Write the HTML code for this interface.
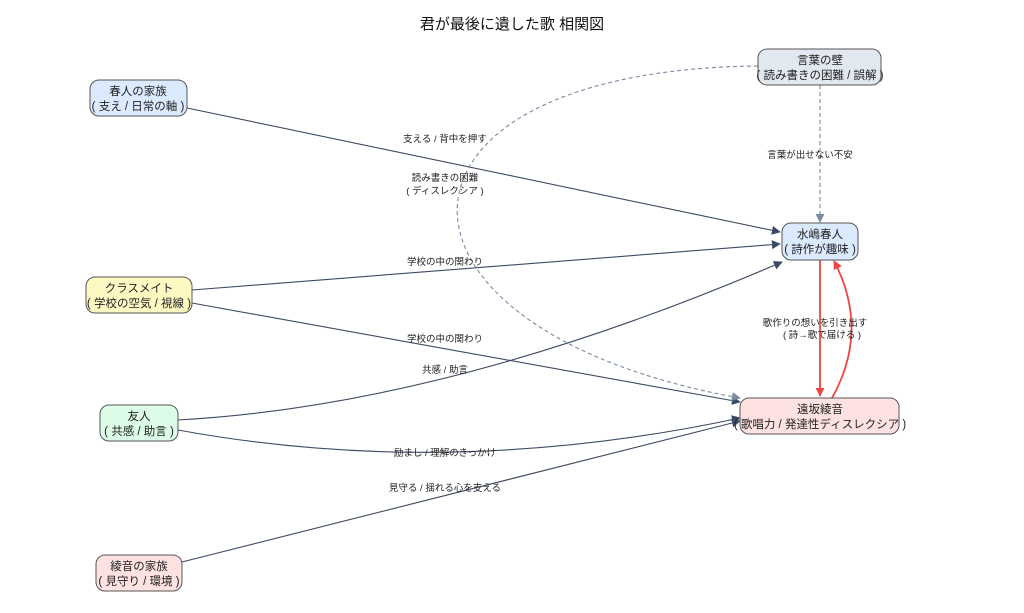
<!DOCTYPE html>
<html><head><meta charset="utf-8"><style>
html,body{margin:0;padding:0;background:#fff;}
svg{display:block;font-family:"Liberation Sans","Noto Sans CJK JP",sans-serif;}
.l{font-size:9.5px;fill:#222;text-anchor:middle;}
.n{font-size:11.5px;fill:#222;text-anchor:middle;}
</style></head><body>
<svg width="1024" height="613" viewBox="0 0 1024 613">
<defs>
<marker id="a" viewBox="0 0 10 10" refX="9" refY="5" markerWidth="9" markerHeight="9" orient="auto" markerUnits="userSpaceOnUse"><path d="M0,0L10,5L0,10z" fill="#3d4a63"/></marker>
<marker id="g" viewBox="0 0 10 10" refX="9" refY="5" markerWidth="9" markerHeight="9" orient="auto" markerUnits="userSpaceOnUse"><path d="M0,0L10,5L0,10z" fill="#7a8aa3"/></marker>
<marker id="r" viewBox="0 0 10 10" refX="9" refY="5" markerWidth="9" markerHeight="9" orient="auto" markerUnits="userSpaceOnUse"><path d="M0,0L10,5L0,10z" fill="#ef4444"/></marker>
</defs>
<text x="512" y="29" font-size="15" text-anchor="middle" fill="#111">君が最後に遺した歌 相関図</text>
<g fill="none" stroke-width="1.1">
<path d="M187,108 L780,232" stroke="#3d4a63" marker-end="url(#a)"/>
<path d="M192,290 L780,244" stroke="#3d4a63" marker-end="url(#a)"/>
<path d="M192,303 L740,402" stroke="#3d4a63" marker-end="url(#a)"/>
<path d="M178,420 Q450,405 782,262" stroke="#3d4a63" marker-end="url(#a)"/>
<path d="M178,430 Q450,480 740,418" stroke="#3d4a63" marker-end="url(#a)"/>
<path d="M182,562 L740,421" stroke="#3d4a63" marker-end="url(#a)"/>
<path d="M820,85 L820,222" stroke="#7a8aa3" stroke-dasharray="4,3" marker-end="url(#g)"/>
<path d="M758,66 C360,70 360,330 740,398" stroke="#7a8aa3" stroke-dasharray="4,3" marker-end="url(#g)"/>
<path d="M820,260 L820,396" stroke="#ef4444" stroke-width="1.8" marker-end="url(#r)"/>
<path d="M832,398 Q870,330 834,261" stroke="#ef4444" stroke-width="1.8" marker-end="url(#r)"/>
</g>
<g class="l">
<text x="445" y="142">支える / 背中を押す</text>
<text x="445" y="181">読み書きの困難</text>
<text x="445" y="194">( ディスレクシア )</text>
<text x="445" y="265">学校の中の関わり</text>
<text x="445" y="342">学校の中の関わり</text>
<text x="445" y="373">共感 / 助言</text>
<text x="445" y="456">励まし / 理解のきっかけ</text>
<text x="445" y="491">見守る / 揺れる心を支える</text>
<text x="810" y="158">言葉が出せない不安</text>
<text x="815" y="326">歌作りの想いを引き出す</text>
<text x="822" y="338">( 詩→歌で届ける )</text>
</g>
<g stroke="#555" stroke-width="1">
<rect x="90" y="80" width="97" height="36" rx="9" fill="#dbeafe"/>
<rect x="86" y="277" width="106" height="36" rx="9" fill="#fef9c3"/>
<rect x="100" y="405" width="78" height="36" rx="9" fill="#dcfce7"/>
<rect x="96" y="555" width="86" height="36" rx="9" fill="#fee2e2"/>
<rect x="758" y="49" width="123" height="36" rx="9" fill="#e2e8f0"/>
<rect x="782" y="223" width="76" height="37" rx="9" fill="#dbeafe"/>
<rect x="740" y="398" width="159" height="36" rx="9" fill="#fee2e2"/>
</g>
<g class="n">
<text x="138" y="95">春人の家族</text><text x="138" y="110">( 支え / 日常の軸 )</text>
<text x="139" y="292">クラスメイト</text><text x="139" y="307">( 学校の空気 / 視線 )</text>
<text x="139" y="420">友人</text><text x="139" y="435">( 共感 / 助言 )</text>
<text x="139" y="570">綾音の家族</text><text x="139" y="585">( 見守り / 環境 )</text>
<text x="820" y="64">言葉の壁</text><text x="820" y="79">( 読み書きの困難 / 誤解 )</text>
<text x="820" y="238">水嶋春人</text><text x="820" y="253">( 詩作が趣味 )</text>
<text x="820" y="413">遠坂綾音</text><text x="820" y="428">( 歌唱力 / 発達性ディスレクシア )</text>
</g>
</svg>
</body></html>
